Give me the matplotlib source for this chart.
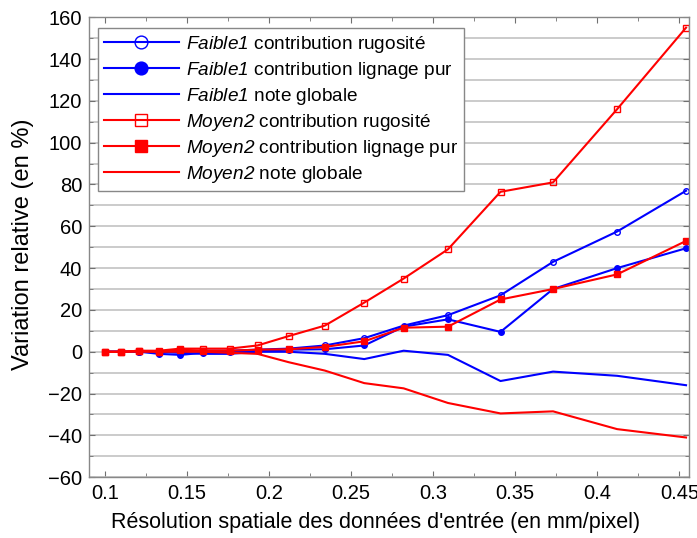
import matplotlib
matplotlib.use("Agg")
import matplotlib.pyplot as plt
from matplotlib.ticker import MultipleLocator

plt.rcParams['font.family'] = ['Liberation Sans', 'DejaVu Sans']
plt.rcParams['mathtext.fontset'] = 'custom'
plt.rcParams['mathtext.it'] = 'Liberation Sans:italic'
plt.rcParams['mathtext.rm'] = 'Liberation Sans:italic'

resolution = [0.1, 0.11, 0.121, 0.133, 0.146, 0.16, 0.176, 0.193, 0.212, 0.234,
              0.258, 0.282, 0.309, 0.341, 0.373, 0.412, 0.454]

faible1_rugosite = [0, 0, 0, 0, 0, 0.5, 0.5, 1, 1.5, 3, 6.5, 12.5, 17.5, 27, 43, 57.5, 77]
faible1_lignage = [0, 0, 0, -1, -1.5, -0.5, 0, 0.5, 1, 1.2, 3, 12, 15.5, 9.5, 30, 40, 49.5]
faible1_globale = [0, 0, 0, 0, -0.5, -1, -1, 0, 0, -1, -3.5, 0.5, -1.5, -14, -9.5, -11.5, -16]
moyen2_rugosite = [0, 0, 0.5, 0.5, 1.5, 1.5, 1.5, 3, 7.5, 12.5, 23.5, 35, 49, 76.5, 81, 116, 155]
moyen2_lignage = [0, 0, 0.5, 0, 1, 0.5, 0.5, 1, 1.2, 2.3, 5, 11.5, 12, 25, 30, 37, 53]
moyen2_globale = [0, 0, 0, 0, 0, 0, -0.5, -1, -5, -9, -15, -17.5, -24.5, -29.5, -28.5, -37, -41]

labels = [r"$\mathit{Faible1}$ contribution rugosité",
          r"$\mathit{Faible1}$ contribution lignage pur",
          r"$\mathit{Faible1}$ note globale",
          r"$\mathit{Moyen2}$ contribution rugosité",
          r"$\mathit{Moyen2}$ contribution lignage pur",
          r"$\mathit{Moyen2}$ note globale"]

fig = plt.figure(figsize=(6.97, 5.38), dpi=100)
ax = fig.add_axes([0.128, 0.113, 0.861, 0.855])

blue = '#0000ff'
red = '#ff0000'
lw = 1.5
ms = 4
ax.plot(resolution, faible1_rugosite, color=blue, lw=lw, marker='o', ms=ms,
        mfc='none', mew=1, label=labels[0])
ax.plot(resolution, faible1_lignage, color=blue, lw=lw, marker='o', ms=ms,
        label=labels[1])
ax.plot(resolution, faible1_globale, color=blue, lw=lw, label=labels[2])
ax.plot(resolution, moyen2_rugosite, color=red, lw=lw, marker='s', ms=ms,
        mfc='none', mew=1, label=labels[3])
ax.plot(resolution, moyen2_lignage, color=red, lw=lw, marker='s', ms=ms,
        label=labels[4])
ax.plot(resolution, moyen2_globale, color=red, lw=lw, label=labels[5])

ax.set_xlim(0.0905, 0.456)
ax.set_ylim(-60, 160)
ax.xaxis.set_minor_locator(MultipleLocator(0.025))
ax.yaxis.set_major_locator(MultipleLocator(20))
ax.yaxis.set_minor_locator(MultipleLocator(10))
ax.set_xticks([0.1, 0.15, 0.2, 0.25, 0.3, 0.35, 0.4, 0.45])
ax.set_xticklabels(['0.1', '0.15', '0.2', '0.25', '0.3', '0.35', '0.4', '0.45'])

ax.grid(True, which='both', axis='y', color='#bdbdbd', lw=1.1)
ax.set_axisbelow(True)
ax.tick_params(which='both', direction='in', top=True, right=True,
               colors='#707070', labelcolor='black', labelsize=14.5)
ax.tick_params(which='major', length=4, pad=5)
ax.tick_params(which='minor', length=3)
for s in ax.spines.values():
    s.set_color('#888888')
    s.set_linewidth(1.0)

ax.set_xlabel("Résolution spatiale des données d'entrée (en mm/pixel)", fontsize=15.5)
ax.xaxis.set_label_coords(0.477, -0.075)
ax.set_ylabel("Variation relative (en %)", fontsize=17)
ax.yaxis.set_label_coords(-0.092, 0.506)

leg = ax.legend(loc='upper left', bbox_to_anchor=(0.015, 0.977), borderaxespad=0,
                fontsize=13.7, frameon=True, fancybox=False, handlelength=3.9,
                handletextpad=0.37, labelspacing=0.26, borderpad=0.32,
                markerscale=2.3)
leg.get_frame().set_edgecolor('#888888')
leg.get_frame().set_linewidth(1.0)
leg.get_frame().set_alpha(1)

fig.savefig('out.png', dpi=100)
